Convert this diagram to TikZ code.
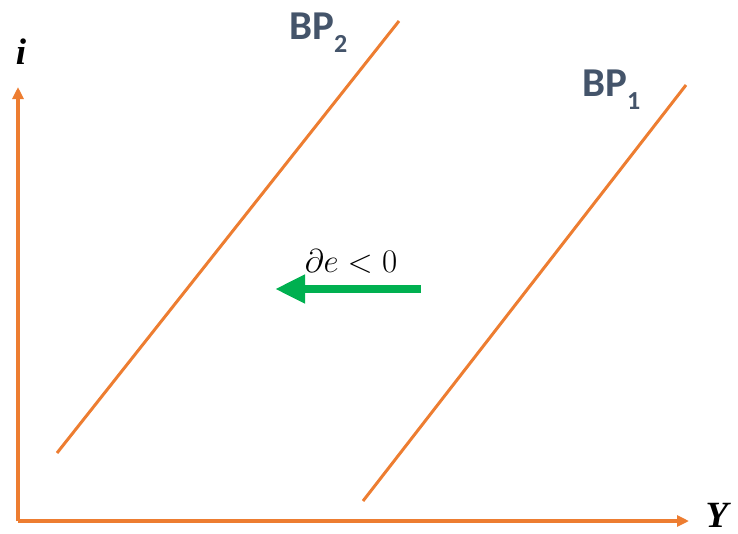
\RequirePackage{fix-cm}
\documentclass[tikz,border=0pt]{standalone}
\usepackage{fontspec}
\setmainfont{Liberation Serif}
\newfontfamily\lblfont{Carlito}
\usetikzlibrary{arrows.meta}
\definecolor{orng}{HTML}{ED7D31}
\definecolor{slate}{HTML}{44546A}
\definecolor{grn}{HTML}{00B050}
\newcommand{\bpsub}[1]{\raisebox{-13pt}{\fontsize{26}{27}\selectfont\bfseries #1}}
\tikzset{
  axis/.style={draw=orng, line width=3.3pt, -{Triangle[length=12pt,width=11pt]}},
  bpline/.style={draw=orng, line width=3pt},
  bplabel/.style={text=slate, font=\lblfont\fontsize{41}{44}\selectfont\bfseries, inner sep=0pt, anchor=base west},
  axlabel/.style={font=\fontsize{37}{40}\selectfont\bfseries\itshape, inner sep=0pt},
  shiftarrow/.style={draw=grn, line width=8pt, -{Triangle[length=30pt,width=27pt]}}
}
\begin{document}
\begin{tikzpicture}[x=1pt,y=-1pt]
\useasboundingbox (0,0) rectangle (738,533);
\coordinate (O) at (18,521);
\coordinate (Itop) at (18,87);
\coordinate (Yend) at (689,521);
\draw[axis] (O) -- (Itop);
\draw[axis] (O) -- (Yend);
\node[axlabel] (ilab) at (21,52) {i};
\node[axlabel] (ylab) at (717,515) {Y};
\coordinate (b2s) at (57,453);
\coordinate (b2e) at (399,21);
\coordinate (b1s) at (363,501);
\coordinate (b1e) at (686,85);
\draw[bpline] (b2s) -- (b2e);
\draw[bpline] (b1s) -- (b1e);
\node[bplabel] (bp2) at (289,39) {BP\bpsub{2}};
\node[bplabel] (bp1) at (582,96) {BP\bpsub{1}};
\coordinate (as) at (421,289);
\coordinate (ae) at (275,289);
\draw[shiftarrow] (as) -- (ae);
\node[inner sep=0pt, font=\fontsize{33}{36}\selectfont] (de) at (351,261) {$\partial e < 0$};
\end{tikzpicture}
\end{document}
